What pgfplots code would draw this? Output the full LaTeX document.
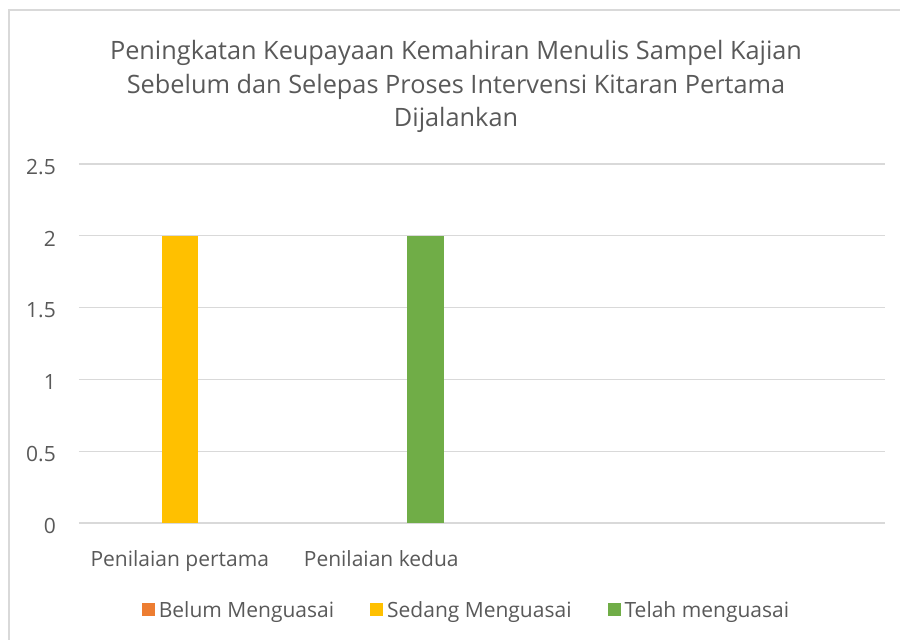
\documentclass[border=0pt]{standalone}
\usepackage{pgfplots}
\pgfplotsset{compat=1.18}
\usepackage{fontspec}
\setmainfont{Open Sans}
\definecolor{txt}{HTML}{595959}
\definecolor{gridc}{HTML}{D9D9D9}
\definecolor{cOr}{HTML}{ED7D31}
\definecolor{cYe}{HTML}{FFC000}
\definecolor{cGr}{HTML}{70AD47}
\pgfplotsset{
  sq/.style={legend image code/.code={\fill[##1] (0pt,-6.5pt) rectangle (13pt,6.5pt);}},
  sqor/.style={legend image code/.code={\fill[cOr] (0pt,-6.5pt) rectangle (13pt,6.5pt);}},
}
\begin{document}
\begin{tikzpicture}[x=1pt,y=1pt]
\path (0,0) rectangle (900,640);
\begin{pgfinterruptboundingbox}
\draw[gridc, line width=1.3pt] (9,-20) -- (9,630) -- (920,630);
\end{pgfinterruptboundingbox}
\node[txt, align=center, font=\fontsize{25.3}{33.5}\selectfont, anchor=north] at (456,603)
  {Peningkatan Keupayaan Kemahiran Menulis Sampel Kajian\\
   Sebelum dan Selepas Proses Intervensi Kitaran Pertama\\
   Dijalankan};
\begin{axis}[
  at={(79pt,117pt)}, anchor=south west,
  scale only axis, width=806pt, height=359pt,
  xmin=-0.5, xmax=3.5, ymin=0, ymax=2.5,
  ytick={0,0.5,1,1.5,2,2.5},
  xtick={0,1}, xticklabels={Penilaian pertama, Penilaian kedua},
  major tick length=0pt,
  axis line style={draw=none},
  ymajorgrids, major grid style={gridc, line width=1.3pt},
  /pgf/number format/assume math mode=true,
  yticklabel style={font=\fontsize{21}{25}\selectfont, text=txt, anchor=east, inner sep=0pt, xshift=-23pt, yshift=-3pt},
  xticklabel style={font=\fontsize{21}{25}\selectfont, text=txt, anchor=base, inner sep=0pt, yshift=-43pt},
  /pgf/number format/.cd, fixed, precision=1, /pgfplots/.cd,
  legend style={draw=none, fill=none, font=\fontsize{21}{25}\selectfont, text=txt,
    at={(0.482,-0.2423)}, anchor=center, legend columns=3,
    nodes={inner xsep=4pt, inner ysep=2pt},
    /tikz/every even column/.append style={column sep=32pt}},
  legend cell align=left,
  unbounded coords=discard,
]
\addplot[ybar, bar width=0.179, bar shift=-0.2196, fill=none, draw=none, sqor] coordinates {(0,0) (1,0)};
\addplot[ybar, bar width=0.179, bar shift=0, fill=cYe, draw=none, sq,
  y filter/.expression={y==0 ? nan : y}] coordinates {(0,2) (1,0)};
\addplot[ybar, bar width=0.179, bar shift=0.2196, fill=cGr, draw=none, sq,
  y filter/.expression={y==0 ? nan : y}] coordinates {(0,0) (1,2)};
\legend{Belum Menguasai, Sedang Menguasai, Telah menguasai}
\end{axis}
\end{tikzpicture}
\end{document}
